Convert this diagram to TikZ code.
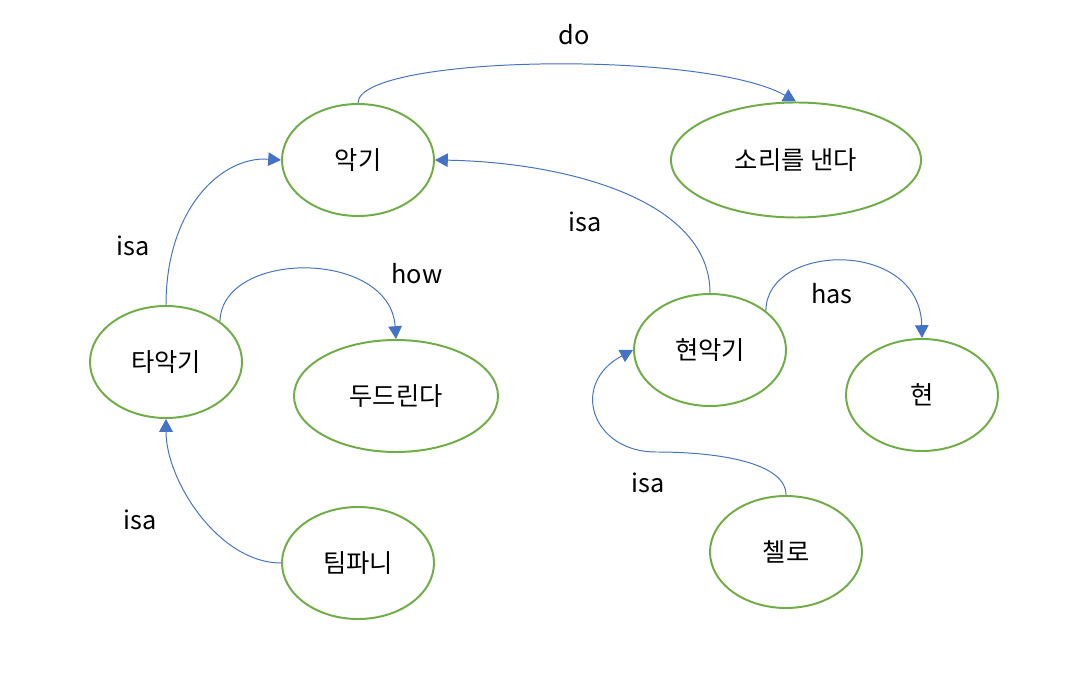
\documentclass[tikz,border=0pt]{standalone}
\usepackage{fontspec}
\setmainfont{Noto Sans CJK KR}
\usetikzlibrary{arrows.meta,shapes.geometric}

\definecolor{nodegreen}{HTML}{70AD47}
\definecolor{linkblue}{HTML}{4472C4}

\begin{document}
\begin{tikzpicture}
[concept/.style={ellipse, draw=nodegreen, line width=1.4pt, minimum width=3.8cm, minimum height=2.8cm, inner sep=0pt, font=\fontsize{18}{21}\selectfont},
 link/.style={draw=linkblue, line width=0.7pt, -{Triangle[length=0.32cm,width=0.34cm]}},
 rel/.style={font=\fontsize{18}{21}\selectfont}]

\useasboundingbox (0,0) rectangle (27.2,16.8);

% concepts
\node[concept] (akgi) at(8.95,12.8) {악기};
\node[concept, minimum width=6.25cm, minimum height=2.875cm] (sori) at(19.9,12.8) {소리를 낸다};
\node[concept] (taakgi) at(4.15,7.75) {타악기};
\node[concept, minimum width=5.1cm] (dudeu) at(9.9,6.9) {두드린다};
\node[concept] (hyeonakgi) at(17.75,8.05) {현악기};
\node[concept] (hyeon) at(23.05,6.925) {현};
\node[concept] (timpani) at(8.95,2.725) {팀파니};
\node[concept] (cello) at(19.65,3.0) {첼로};
\coordinate (celloBend) at(16.4,5.5);

% relations
\node[rel] (doLabel) at(14.35,15.925) {do};
\node[rel] (isaTa) at(3.325,10.65) {isa};
\node[rel] (howLabel) at(10.425,9.95) {how};
\node[rel] (isaHyeon) at(14.625,11.25) {isa};
\node[rel] (hasLabel) at(20.8,9.45) {has};
\node[rel] (isaCello) at(16.2,4.725) {isa};
\node[rel] (isaTimpani) at(3.5,3.8) {isa};

\draw[link] (akgi.north) .. controls +(0,1.2) and +(-2.3,1.3) .. (sori.north);
\draw[link] (taakgi.north) .. controls +(0,2.4) and +(-1.5,0.1) .. (akgi.west);
\draw[link] (taakgi.37) .. controls +(0.05,1.8) and +(-0.15,2.25) .. (dudeu.north);
\draw[link] (hyeonakgi.north) .. controls +(0,2.4) and +(3.1,-0.05) .. (akgi.east);
\draw[link] (hyeonakgi.35) .. controls +(0,1.7) and +(-0.05,2.5) .. (hyeon.north);
\draw[link] (cello.north) .. controls +(0,0.8) and +(1.6,0) .. (celloBend)
	.. controls +(-1.6,0) and +(-1.6,-0.85) .. (hyeonakgi.west);
\draw[link] (timpani.west) .. controls +(-1.55,0) and +(0,-1.55) .. (taakgi.south);
\end{tikzpicture}
\end{document}
